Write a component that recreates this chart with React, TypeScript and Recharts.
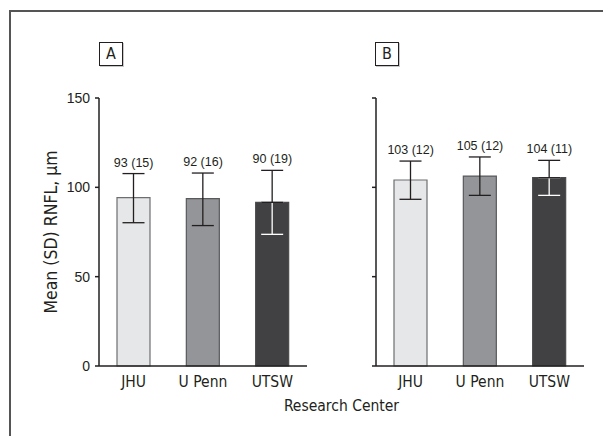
import React from 'react';
import { ComposedChart, Bar, Line, XAxis, YAxis, ErrorBar, Cell, LabelList, Label } from 'recharts';

// research centres and y ticks shared by both panels
const centers = ['JHU', 'U Penn', 'UTSW'];
const yTicks = [0, 50, 100, 150];
const fills = ['#e6e7e8', '#939598', '#414042'];
const strokes = ['#6d6e71', '#58595b', '#4a4a4c'];
// the error bar is drawn white where it sits inside a dark bar
const whiteInside = [false, false, true];

// panel A
const meansA = [94.2, 93.7, 91.6];
const lowsA = [80.2, 78.6, 73.7];
const highsA = [107.7, 108.0, 109.5];
const labelsA = ['93 (15)', '92 (16)', '90 (19)'];

// panel B
const meansB = [104.1, 106.3, 105.4];
const lowsB = [93.3, 95.5, 95.5];
const highsB = [114.7, 117.0, 115.1];
const labelsB = ['103 (12)', '105 (12)', '104 (11)'];

const NARROW = '"Liberation Sans Narrow", "DejaVu Sans Condensed", "Roboto Condensed", Roboto, sans-serif';
const NUM = '"Liberation Sans", Arial, sans-serif';
const INK = '#231f20';

function buildRows(means: number[], lows: number[], highs: number[], labels: string[]) {
  return centers.map((name, i) => {
    const down = means[i] - lows[i];
    const up = highs[i] - means[i];
    return {
      name,
      mean: means[i],
      top: highs[i],
      label: labels[i],
      errDark: whiteInside[i] ? [0, up] : [down, up],
      errLight: whiteInside[i] ? [down, 0] : undefined,
    };
  });
}

const rowsA = buildRows(meansA, lowsA, highsA, labelsA);
const rowsB = buildRows(meansB, lowsB, highsB, labelsB);

// keeps the tick marks but draws no tick text (panel B)
const NoTickText = () => <g />;

interface PanelProps {
  rows: ReturnType<typeof buildRows>;
  width: number;
  yAxisWidth: number;
  showYLabels: boolean;
}

function Panel({ rows, width, yAxisWidth, showYLabels }: PanelProps) {
  return (
    <ComposedChart
      width={width}
      height={436}
      data={rows}
      margin={{ top: 98, right: width - yAxisWidth - 208, bottom: 40, left: 0 }}
    >
      <XAxis
        dataKey="name"
        height={30}
        tickLine={false}
        tickSize={0}
        tickMargin={10}
        axisLine={{ stroke: INK, strokeWidth: 1.5 }}
        tick={{ fill: INK, fontSize: 15.5, fontFamily: NARROW }}
      />
      <YAxis
        type="number"
        domain={[0, 150]}
        ticks={yTicks}
        width={yAxisWidth}
        tickSize={4}
        tickMargin={5}
        axisLine={{ stroke: INK, strokeWidth: 1.5 }}
        tickLine={{ stroke: INK, strokeWidth: 1.5 }}
        tick={showYLabels ? { fill: INK, fontSize: 14, fontFamily: NUM } : NoTickText}
      >
        {showYLabels && (
          <Label
            value="Mean (SD) RNFL, µm"
            angle={-90}
            position="insideLeft"
            offset={51}
            style={{ textAnchor: 'middle', fontSize: 17.5, fontFamily: NARROW, fill: INK }}
          />
        )}
      </YAxis>
      <Bar dataKey="mean" barSize={33} strokeWidth={1.2} isAnimationActive={false}>
        {rows.map((r, i) => (
          <Cell key={r.name} fill={fills[i]} stroke={strokes[i]} />
        ))}
        <ErrorBar dataKey="errLight" direction="y" width={11} stroke="#ffffff" strokeWidth={1.3} />
        <ErrorBar dataKey="errDark" direction="y" width={11} stroke={INK} strokeWidth={1.3} />
      </Bar>
      <Line
        dataKey="top"
        stroke="none"
        dot={false}
        activeDot={false}
        legendType="none"
        isAnimationActive={false}
      >
        <LabelList dataKey="label" position="top" offset={7} fill={INK} fontSize={12.5} fontFamily={NUM} />
      </Line>
    </ComposedChart>
  );
}

const boxStyle: React.CSSProperties = {
  position: 'absolute',
  top: 42,
  width: 24,
  height: 24,
  boxSizing: 'border-box',
  border: `1px solid ${INK}`,
  boxShadow: '1px 1px 0 #c8c8c8',
  textAlign: 'center',
  lineHeight: '22px',
  fontSize: 16,
  fontFamily: NARROW,
  color: INK,
};

export default function App() {
  return (
    <div
      style={{
        position: 'absolute',
        left: 0,
        top: 0,
        width: 603,
        height: 436,
        overflow: 'hidden',
        background: '#fff',
      }}
    >
      <div
        style={{
          position: 'absolute',
          left: 9,
          top: 10,
          width: 700,
          height: 600,
          borderLeft: '2px solid #555',
          borderTop: '2px solid #555',
        }}
      />
      <div style={{ position: 'absolute', left: 0, top: 0 }}>
        <Panel rows={rowsA} width={320} yAxisWidth={99} showYLabels />
      </div>
      <div style={{ position: 'absolute', left: 320, top: 0 }}>
        <Panel rows={rowsB} width={283} yAxisWidth={56} showYLabels={false} />
      </div>
      <div style={{ ...boxStyle, left: 99 }}>A</div>
      <div style={{ ...boxStyle, left: 375 }}>B</div>
      <svg width={603} height={436} style={{ position: 'absolute', left: 0, top: 0, pointerEvents: 'none' }}>
        <text x={341.5} y={411} textAnchor="middle" fontSize={15.5} fontFamily={NARROW} fill={INK}>
          Research Center
        </text>
      </svg>
    </div>
  );
}
